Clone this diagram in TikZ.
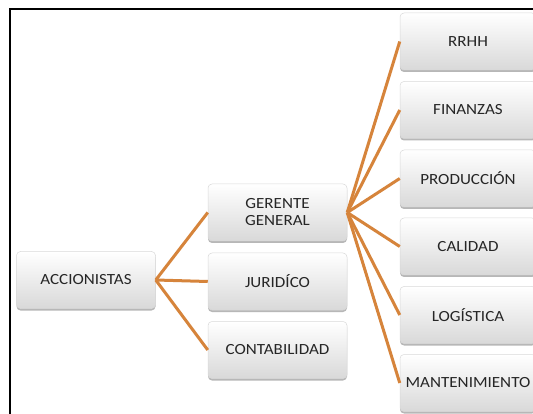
\documentclass[tikz,border=0pt]{standalone}
\usepackage{fontspec}
\setmainfont{Carlito}[FakeStretch=1.1]
\usetikzlibrary{shadows}
\definecolor{linkor}{HTML}{D6843B}
\definecolor{txt}{HTML}{262626}
\tikzset{
  box/.style={draw=gray!30, line width=0.5pt, rounded corners=4pt,
    top color=white, bottom color=gray!30, minimum height=57pt,
    text=txt, align=center, font=\fontsize{15.5}{17}\selectfont,
    drop shadow={shadow xshift=0pt, shadow yshift=-2pt, fill=gray!70, opacity=0.8}},
  wide/.style={box, minimum width=139pt},
  rbox/.style={box, minimum width=136pt},
  link/.style={draw=linkor, line width=3pt}
}
\begin{document}
\begin{tikzpicture}[x=1pt,y=-1pt]
\useasboundingbox (0,0) rectangle (533,414);
\fill[white] (0,0) rectangle (533,414);
\draw[line width=2pt, black] (10,414) -- (10,9) -- (533,9);
\node[wide] (acc) at (86,280) {ACCIONISTAS};
\node[wide] (ger) at (277.5,212.5) {GERENTE\\GENERAL};
\node[wide] (jur) at (277.5,281.5) {JURIDÍCO};
\node[wide] (con) at (277.5,350) {CONTABILIDAD};
\node[rbox] (rrhh) at (468,41.5) {RRHH};
\node[rbox] (fin) at (468,110) {FINANZAS};
\node[rbox] (pro) at (468,178.5) {PRODUCCIÓN};
\node[rbox] (cal) at (468,246.5) {CALIDAD};
\node[rbox] (log) at (468,315) {LOGÍSTICA};
\node[rbox] (man) at (468,383) {MANTENIMIENTO};
\foreach \t in {ger,jur,con} \draw[link] (acc.east) -- (\t.west);
\foreach \t in {rrhh,fin,pro,cal,log,man} \draw[link] (ger.east) -- (\t.west);
\end{tikzpicture}
\end{document}
